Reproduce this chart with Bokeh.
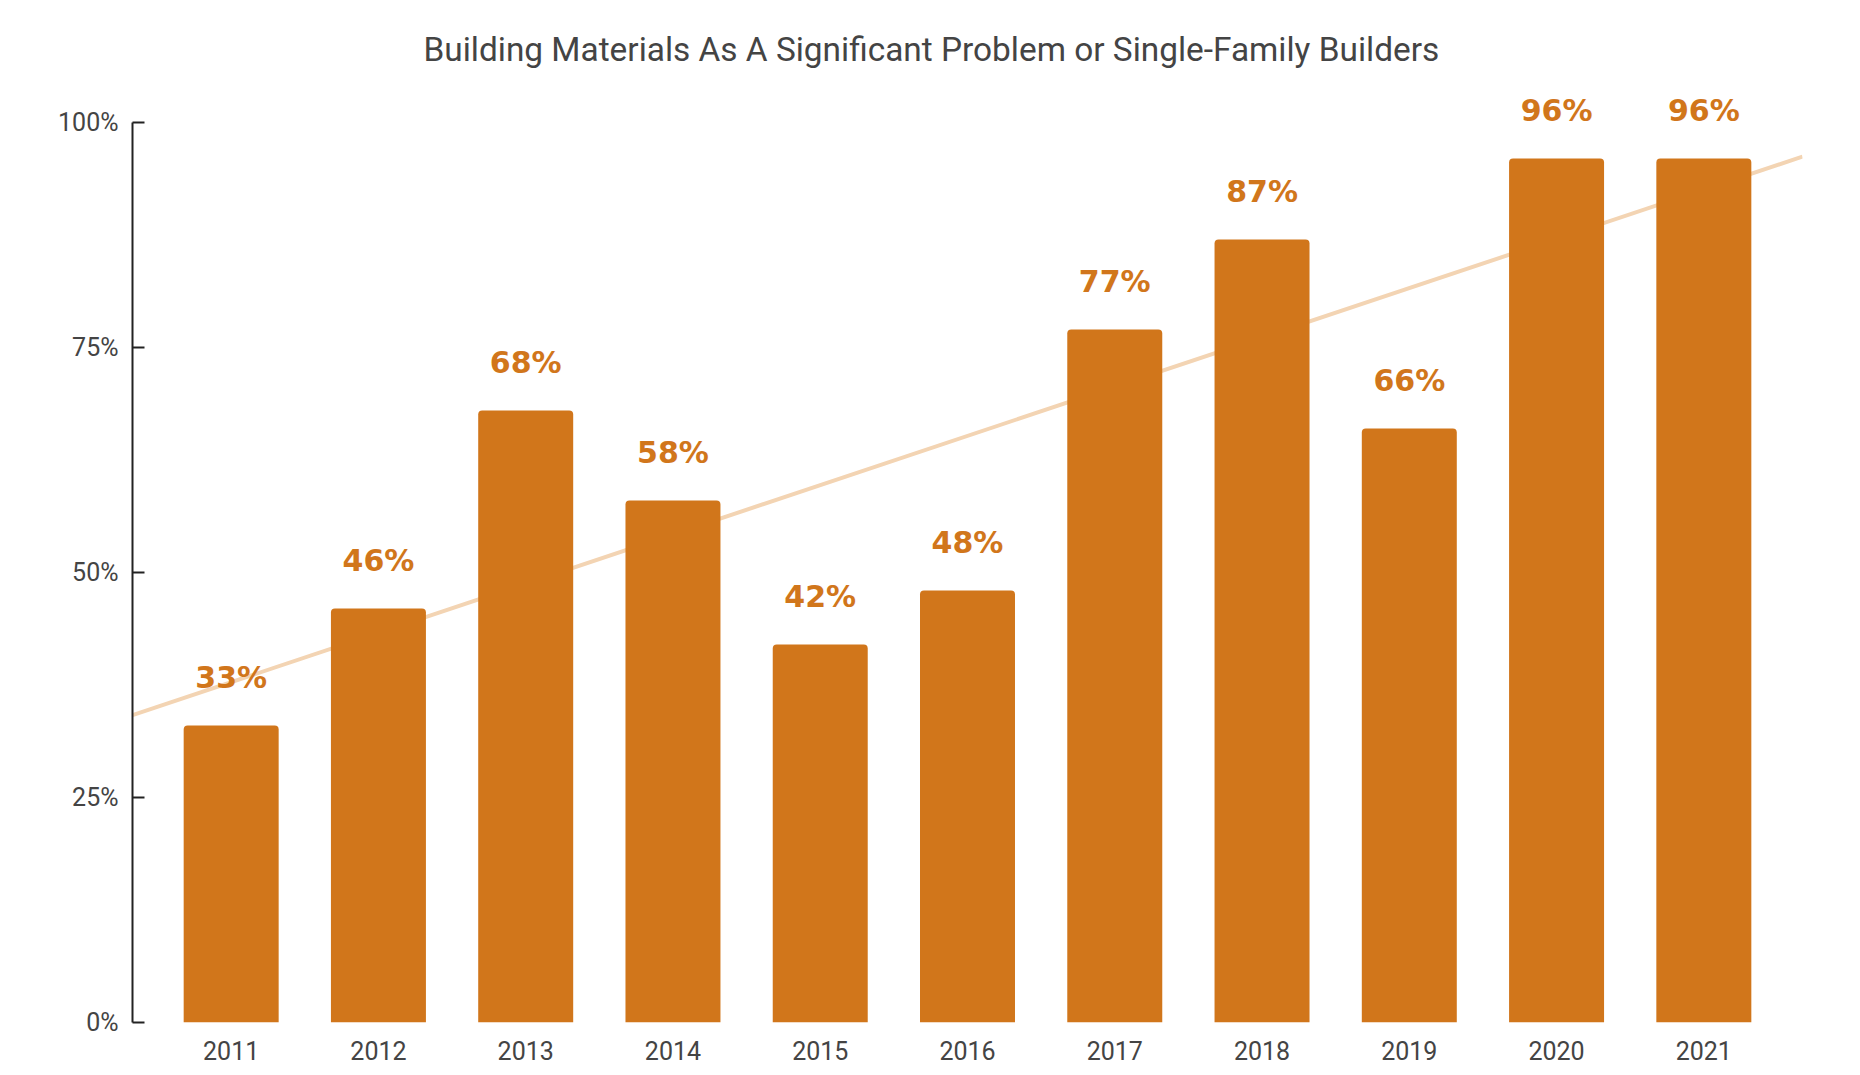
import numpy as np
from bokeh.plotting import figure
from bokeh.models import ColumnDataSource, FixedTicker, PrintfTickFormatter, Range1d, Title
from bokeh.core.properties import value
from bokeh.embed import file_html
from bokeh.resources import INLINE

# ---- data ----
years = [2011, 2012, 2013, 2014, 2015, 2016, 2017, 2018, 2019, 2020, 2021]
year_labels = ["2011", "2012", "2013", "2014", "2015", "2016", "2017", "2018", "2019", "2020", "2021"]
share = [33, 46, 68, 58, 42, 48, 77, 87, 66, 96, 96]
y_ticks = [0, 25, 50, 75, 100]
title_text = "Building Materials As A Significant Problem or Single-Family Builders"

BAR = "#D1761B"
TREND = "#F3D4B3"
TEXT = "#444444"

pad = 0.67
x0, x1 = years[0] - pad, years[-1] + pad

src = ColumnDataSource(dict(x=years, top=share, label=[f"{v}%" for v in share]))

p = figure(width=1844, height=1064, output_backend="svg", toolbar_location=None,
           x_range=Range1d(x0, x1), y_range=Range1d(0, 105.67),
           min_border_left=132, min_border_right=42, min_border_bottom=42, min_border_top=71)
p.title = Title(text=title_text, align="left", offset=291,
                text_font="Roboto", text_font_size="33.4px", text_font_style="normal",
                text_color=TEXT, standoff=6)
p.outline_line_color = None
p.background_fill_color = "white"
p.border_fill_color = "white"
p.xgrid.visible = False
p.ygrid.visible = False

# linear trend (least squares) across the full x range
slope, intercept = np.polyfit(np.array(years, dtype=float), np.array(share, dtype=float), 1)
p.line([x0, x1], [slope * x0 + intercept, slope * x1 + intercept], line_color=TREND, line_width=4)

p.vbar(x="x", top="top", width=0.645, bottom=0, source=src, fill_color=BAR, line_color=None,
       border_radius=(4, 4, 0, 0))

p.text(x="x", y="top", text="label", source=src, text_align="center", text_baseline="alphabetic",
       y_offset=-48, text_font=value("DejaVu Sans"), text_font_style="bold",
       text_font_size="30px", text_color=BAR)

# axes
p.yaxis.ticker = FixedTicker(ticks=y_ticks)
p.yaxis.formatter = PrintfTickFormatter(format="%d%%")
p.yaxis.bounds = (0, 100)
p.yaxis.axis_line_color = "#222222"
p.yaxis.axis_line_width = 2
p.yaxis.major_tick_line_color = "#222222"
p.yaxis.major_tick_line_width = 2
p.yaxis.major_tick_in = 12
p.yaxis.major_tick_out = 0
p.yaxis.minor_tick_line_color = None
p.yaxis.major_label_standoff = 14
p.yaxis.major_label_text_font = "Roboto"
p.yaxis.major_label_text_font_size = "25px"
p.yaxis.major_label_text_color = TEXT

p.xaxis.ticker = FixedTicker(ticks=years)
p.xaxis.major_label_overrides = {y: l for y, l in zip(years, year_labels)}
p.xaxis.axis_line_color = None
p.xaxis.major_tick_line_color = None
p.xaxis.minor_tick_line_color = None
p.xaxis.major_label_standoff = 12
p.xaxis.major_label_text_font = "Roboto"
p.xaxis.major_label_text_font_size = "25px"
p.xaxis.major_label_text_color = TEXT

open("out.html", "w").write(file_html(p, INLINE))
